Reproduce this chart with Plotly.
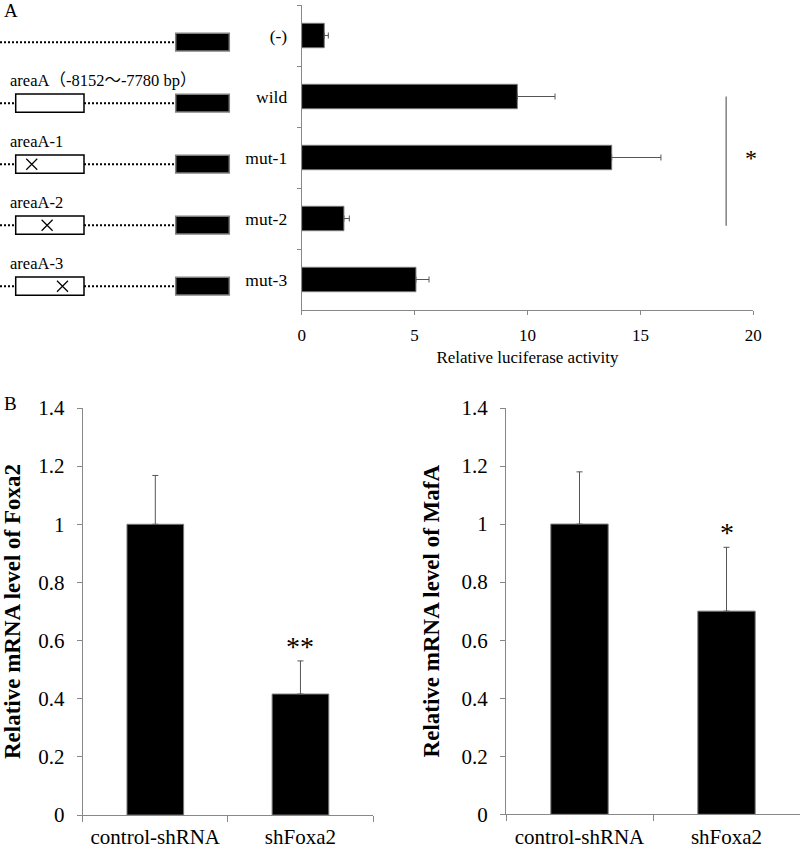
import plotly.graph_objects as go

# ---------------- Panel A data ----------------
constructs = ["(-)", "wild", "mut-1", "mut-2", "mut-3"]
luc_activity = [1.0, 9.55, 13.73, 1.87, 5.06]
luc_error = [0.18, 1.67, 2.18, 0.24, 0.58]
construct_labels = ["", "areaA（-8152～-7780 bp）", "areaA-1", "areaA-2", "areaA-3"]
has_areaA = [False, True, True, True, True]
mutation_site = [None, None, 1, 2, 3]
luc_ticks = [0, 5, 10, 15, 20]

# ---------------- Panel B data ----------------
groups = ["control-shRNA", "shFoxa2"]
foxa2_mrna = [1.0, 0.416]
foxa2_err = [0.168, 0.114]
foxa2_sig = ["", "**"]
mafa_mrna = [1.0, 0.70]
mafa_err = [0.18, 0.22]
mafa_sig = ["", "*"]

SERIF = "Liberation Serif"
AXC = "#888888"
ERRC = "#555555"

fig = go.Figure()

# Panel A bars
fig.add_trace(go.Bar(
    x=luc_activity, y=constructs, orientation="h", xaxis="x", yaxis="y",
    width=0.4, marker=dict(color="black", line=dict(color="#777777", width=1)),
    error_x=dict(type="data", array=luc_error, arrayminus=[0]*len(luc_error),
                 symmetric=False, color=ERRC, thickness=1, width=3),
    showlegend=False, hoverinfo="skip"))

# Panel B bars
fig.add_trace(go.Bar(
    x=groups, y=foxa2_mrna, xaxis="x2", yaxis="y2", width=0.39,
    marker=dict(color="black", line=dict(color="#777777", width=1)),
    error_y=dict(type="data", array=foxa2_err, arrayminus=[0]*2, symmetric=False,
                 color=ERRC, thickness=1, width=3),
    showlegend=False, hoverinfo="skip"))
fig.add_trace(go.Bar(
    x=groups, y=mafa_mrna, xaxis="x3", yaxis="y3", width=0.39,
    marker=dict(color="black", line=dict(color="#777777", width=1)),
    error_y=dict(type="data", array=mafa_err, arrayminus=[0]*2, symmetric=False,
                 color=ERRC, thickness=1, width=3),
    showlegend=False, hoverinfo="skip"))

# ---------------- Construct diagram (hidden axes x4/y4, px-like x units) ----------------
ROW_OFF = 0.11
BOX_X0, BOX_X1 = 15.7, 84.0
LUC_X0, LUC_X1 = 175.7, 229.3
HALF_H = 0.15
shapes = []
mx, my = [], []
annotations = []
for i, name in enumerate(constructs):
    yc = i + ROW_OFF
    shapes.append(dict(type="line", xref="x4", yref="y4", x0=0, x1=LUC_X0, y0=yc, y1=yc,
                       line=dict(color="black", width=2, dash="2px,2px"), layer="below"))
    if has_areaA[i]:
        shapes.append(dict(type="rect", xref="x4", yref="y4", x0=BOX_X0, x1=BOX_X1,
                           y0=yc - HALF_H, y1=yc + HALF_H, fillcolor="white",
                           line=dict(color="black", width=1.5), layer="below"))
    shapes.append(dict(type="rect", xref="x4", yref="y4", x0=LUC_X0, x1=LUC_X1,
                       y0=yc - 0.145, y1=yc + 0.145, fillcolor="black",
                       line=dict(color="#808080", width=1.5), layer="below"))
    if mutation_site[i] is not None:
        frac = 0.01 + 0.225 * mutation_site[i]
        mx.append(BOX_X0 + (BOX_X1 - BOX_X0) * frac)
        my.append(yc)
    if construct_labels[i]:
        annotations.append(dict(xref="x4", yref="y4", x=8, y=yc - 0.38, text=construct_labels[i],
                                showarrow=False, xanchor="left", yanchor="middle",
                                font=dict(family=SERIF + ", Noto Sans CJK JP", size=16.5, color="black")))

fig.add_trace(go.Scatter(x=mx, y=my, xaxis="x4", yaxis="y4", mode="markers",
                         marker=dict(symbol="x-thin-open", size=11, color="black",
                                     line=dict(color="black", width=1.2)),
                         showlegend=False, hoverinfo="skip", cliponaxis=False))

# significance line in A
sig_x = 18.8
shapes.append(dict(type="line", xref="x", yref="y", x0=sig_x, x1=sig_x, y0=1.0, y1=3.12,
                   line=dict(color="#808080", width=1.5)))
annotations.append(dict(xref="x", yref="y", x=19.9, y=2.01, text="*", showarrow=False,
                        font=dict(family=SERIF, size=24, color="black")))

# significance stars in B
STAR_OFF = -0.01
for i, s in enumerate(foxa2_sig):
    if s:
        annotations.append(dict(xref="x2", yref="y2", x=groups[i], y=foxa2_mrna[i] + foxa2_err[i] + STAR_OFF,
                                text=s, showarrow=False, yanchor="bottom",
                                font=dict(family=SERIF, size=28, color="black")))
for i, s in enumerate(mafa_sig):
    if s:
        annotations.append(dict(xref="x3", yref="y3", x=groups[i], y=mafa_mrna[i] + mafa_err[i] + STAR_OFF,
                                text=s, showarrow=False, yanchor="bottom",
                                font=dict(family=SERIF, size=28, color="black")))

# panel letters
annotations.append(dict(xref="paper", yref="paper", x=0.002, y=1 - 10 / 848, text="A", showarrow=False,
                        xanchor="left", yanchor="middle", font=dict(family=SERIF, size=19, color="black")))
annotations.append(dict(xref="paper", yref="paper", x=0.002, y=1 - 404 / 848, text="B", showarrow=False,
                        xanchor="left", yanchor="middle", font=dict(family=SERIF, size=19, color="black")))

axis_common = dict(showline=True, linecolor=AXC, linewidth=1, ticks="outside", tickcolor=AXC,
                   showgrid=False, zeroline=False, automargin=False,
                   tickfont=dict(family=SERIF, color="black"))

fig.update_layout(
    template="none",
    width=800, height=848, margin=dict(l=0, r=0, t=0, b=0, pad=0),
    paper_bgcolor="white", plot_bgcolor="white",
    font=dict(family=SERIF, color="black"),
    xaxis=dict(**axis_common, domain=[0.3771, 0.9416], anchor="y", range=[0, 20],
               tickvals=luc_ticks, ticklen=4, ticklabelstandoff=6,
               tickfont_size=17,
               title=dict(text="Relative luciferase activity", font=dict(family=SERIF, size=17), standoff=6)),
    yaxis=dict(**axis_common, domain=[1 - 310 / 848, 1 - 5 / 848], anchor="x", type="category",
               categoryorder="array", categoryarray=constructs,
               range=[4.5, -0.5], tickson="boundaries", ticklen=4, ticklabelstandoff=10,
               tickfont_size=17.5),
    xaxis2=dict(**axis_common, domain=[0.1034, 0.4663], anchor="y2", type="category",
                range=[-0.5, 1.5], tickson="boundaries", ticklen=6, ticklabelstandoff=3,
                tickfont_size=21),
    yaxis2=dict(**axis_common, domain=[1 - 815 / 848, 1 - 408 / 848], anchor="x2",
                range=[0, 1.4], dtick=0.2, ticklen=5, ticklabelstandoff=8, tickfont_size=21,
                title=dict(text="Relative mRNA level of Foxa2",
                           font=dict(family=SERIF, size=23, weight="bold"), standoff=15)),
    xaxis3=dict(**axis_common, domain=[0.6325, 1.0], anchor="y3", type="category",
                range=[-0.5, 1.5], tickson="boundaries", ticklen=6, ticklabelstandoff=3,
                tickfont_size=21),
    yaxis3=dict(**axis_common, domain=[1 - 814.3 / 848, 1 - 408 / 848], anchor="x3",
                range=[0, 1.4], dtick=0.2, ticklen=5, ticklabelstandoff=8, tickfont_size=21,
                title=dict(text="Relative mRNA level of MafA",
                           font=dict(family=SERIF, size=23, weight="bold"), standoff=15)),
    xaxis4=dict(domain=[0, 0.3], range=[0, 240], visible=False, anchor="y4", fixedrange=True,
                automargin=False),
    yaxis4=dict(domain=[1 - 310 / 848, 1 - 5 / 848], range=[4.5, -0.5], visible=False,
                anchor="x4", fixedrange=True, automargin=False),
    shapes=shapes, annotations=annotations,
)

fig.write_html("out.html", config={"displayModeBar": False},
               post_script="document.body.style.margin='0';document.body.style.padding='0';")
